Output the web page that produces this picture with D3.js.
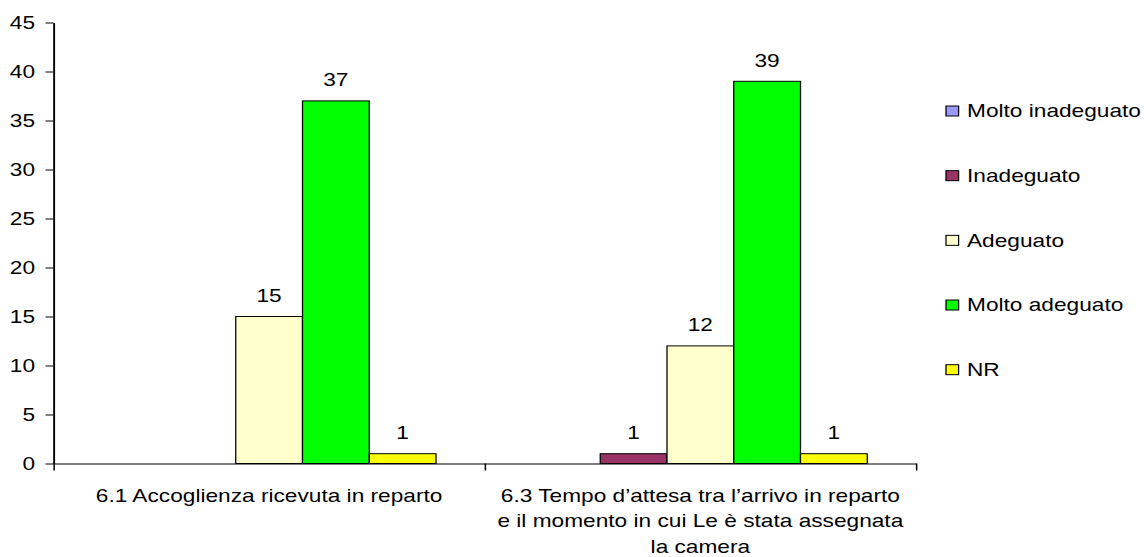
<!DOCTYPE html>
<html>
<head>
<meta charset="utf-8">
<script src="https://cdn.jsdelivr.net/npm/d3@7"></script>
<style>
  body { margin: 0; background: #fff; }
  svg { display: block; font-family: "Liberation Sans", Arial, sans-serif; }
</style>
</head>
<body>
<div class="visContainer"></div>
<script>
// Data.
const categories = ['6.1', '6.3'];
const categoryLines = [
  ['6.1 Accoglienza ricevuta in reparto'],
  ['6.3 Tempo d’attesa tra l’arrivo in reparto', 'e il momento in cui Le è stata assegnata', 'la camera']
];
const series = ['Molto inadeguato', 'Inadeguato', 'Adeguato', 'Molto adeguato', 'NR'];
const accoglienza = [0, 0, 15, 37, 1];
const tempoAttesa = [0, 1, 12, 39, 1];
const yTicks = [0, 5, 10, 15, 20, 25, 30, 35, 40, 45];

const seriesColors = ['#9999ff', '#993366', '#ffffcc', '#00ff00', '#ffff00'];
const tableValues = [accoglienza, tempoAttesa];

// SVG constants.
const width = 1144;
const height = 557;
const sx = 1.26; // text in the original is stretched sideways
const plotLeft = 53.5, plotRight = 916, plotTop = 22.5, plotBottom = 463.5;
const fontSize = 18;

const svg = d3.select('.visContainer')
              .append('svg')
              .attr('width', width)
              .attr('height', height);

const root = svg.append('g')
                .attr('transform', 'scale(' + sx + ',1)')
                .style('font-size', fontSize + 'px');

// Scales.
const x = d3.scaleBand()
            .domain(categories)
            .range([plotLeft / sx, plotRight / sx]);

const xs = d3.scaleBand()
             .domain(series)
             .range([0, x.bandwidth()])
             .paddingInner(0)
             .paddingOuter(0.73);

const y = d3.scaleLinear()
            .domain([0, 45])
            .range([plotBottom, plotTop]);

const color = d3.scaleOrdinal().domain(series).range(seriesColors);

// Bars.
const rows = [];
categories.forEach((c, i) => {
    series.forEach((s, j) => {
        rows.push({cat: c, s: s, v: tableValues[i][j]});
    });
});
const shown = rows.filter((d) => d.v > 0);

root.append('g')
    .selectAll('rect')
    .data(shown)
    .enter()
    .append('rect')
    .attr('x', (d) => x(d.cat) + xs(d.s))
    .attr('y', (d) => y(d.v))
    .attr('width', xs.bandwidth())
    .attr('height', (d) => y(0) - y(d.v))
    .attr('fill', (d) => color(d.s))
    .attr('stroke', '#000')
    .attr('stroke-width', 1);

// Value labels.
root.append('g')
    .selectAll('text')
    .data(shown)
    .enter()
    .append('text')
    .attr('x', (d) => x(d.cat) + xs(d.s) + xs.bandwidth() / 2)
    .attr('y', (d) => y(d.v) - 14.5)
    .attr('text-anchor', 'middle')
    .attr('fill', '#000')
    .text((d) => d.v);

// Y axis.
const yAxis = d3.axisLeft(y)
                .tickValues(yTicks)
                .tickSizeInner(8 / sx)
                .tickSizeOuter(0)
                .tickPadding(8.3);

const yG = root.append('g')
               .attr('transform', 'translate(' + (plotLeft / sx) + ',0)')
               .call(yAxis);
yG.select('.domain').attr('stroke-width', 1.5);
yG.selectAll('text').attr('font-size', fontSize).attr('font-family', null).attr('fill', '#000');

// X axis (ticks at category boundaries).
const xEdge = d3.scaleLinear()
                .domain([0, categories.length])
                .range([plotLeft / sx, plotRight / sx]);

const xG = root.append('g')
               .attr('transform', 'translate(0,' + plotBottom + ')')
               .call(d3.axisBottom(xEdge)
                       .tickValues(d3.range(categories.length + 1))
                       .tickSize(7)
                       .tickSizeOuter(0)
                       .tickFormat(() => ''));
xG.selectAll('line').attr('stroke-width', 1.2);

// Category labels.
const catG = root.append('g');
categories.forEach((c, i) => {
    const t = catG.append('text')
                  .attr('text-anchor', 'middle')
                  .attr('fill', '#000');
    categoryLines[i].forEach((line, k) => {
        t.append('tspan')
         .attr('x', x(c) + x.bandwidth() / 2)
         .attr('y', 502 + k * 25.5)
         .text(line);
    });
});

// Legend.
const legendY = d3.scalePoint().domain(series).range([111, 369.7]);
const legend = root.append('g')
                   .selectAll('g')
                   .data(series)
                   .enter()
                   .append('g')
                   .attr('transform', (d) => 'translate(' + (946 / sx) + ',' + legendY(d) + ')');

legend.append('rect')
      .attr('x', 0)
      .attr('y', -5)
      .attr('width', 10)
      .attr('height', 10)
      .attr('fill', (d) => color(d))
      .attr('stroke', '#000')
      .attr('stroke-width', 1);

legend.append('text')
      .attr('x', (967 - 946) / sx)
      .attr('y', 0)
      .attr('dy', '0.35em')
      .attr('fill', '#000')
      .text((d) => d);
</script>
</body>
</html>
